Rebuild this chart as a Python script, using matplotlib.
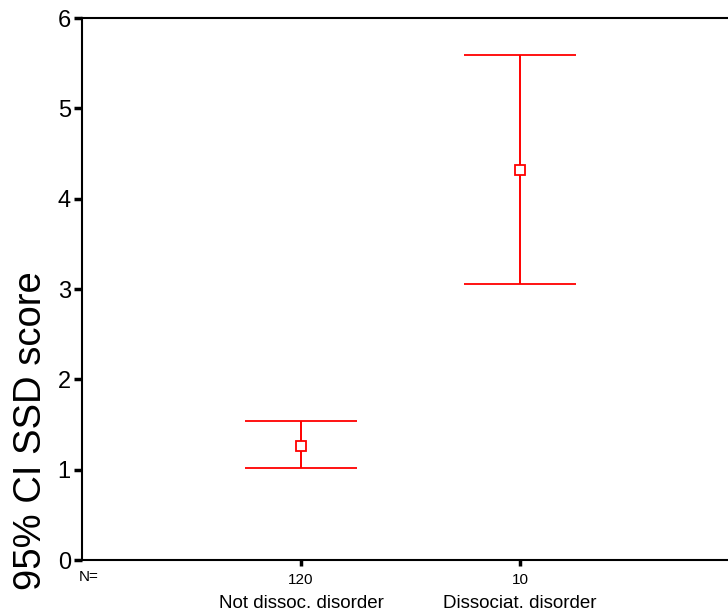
import numpy as np
import matplotlib.pyplot as plt
from matplotlib.transforms import blended_transform_factory

# group data
groups = ["Not dissoc. disorder", "Dissociat. disorder"]
counts = ["120", "10"]
means = [1.26, 4.32]
lower = [1.02, 3.06]
upper = [1.54, 5.59]

plt.rcParams['font.family'] = ['Liberation Sans', 'DejaVu Sans']

fig = plt.figure(figsize=(7.28, 6.15), dpi=100)
ax = fig.add_axes([0.1126, 0.0894, 0.9024, 0.8813])

x = np.arange(1, len(groups) + 1)
m = np.array(means)
err = [m - np.array(lower), np.array(upper) - m]
ax.errorbar(x, m, yerr=err, fmt='s', color='#ff0000', mfc='white', mec='#ff0000',
            markersize=6.5, mew=1.3, elinewidth=1.4, capsize=40, capthick=1.4)

ax.set_xlim(0, 3)
ax.set_ylim(0, 6)
ax.set_yticks(range(0, 7))
ax.tick_params(axis='y', length=6, width=2.5, labelsize=17, pad=2)
ax.set_xticks(x)
ax.set_xticklabels(counts, fontsize=11)
ax.tick_params(axis='x', length=4, width=2.5, pad=5)

for s in ['left', 'bottom', 'top']:
    ax.spines[s].set_linewidth(1.5)
ax.spines['right'].set_visible(False)

trans = blended_transform_factory(ax.transData, ax.transAxes)
ax.text(0.03, -0.031, "N=", transform=trans, fontsize=11,
        ha='center', va='center')
for xi, g in zip(x, groups):
    ax.text(xi, -0.081, g, transform=trans, fontsize=13.5,
            ha='center', va='center')

ax.set_ylabel("95% CI SSD score", fontsize=27.5)
ax.yaxis.set_label_coords(-0.05, 0.238)

fig.savefig("out.png", dpi=100)
